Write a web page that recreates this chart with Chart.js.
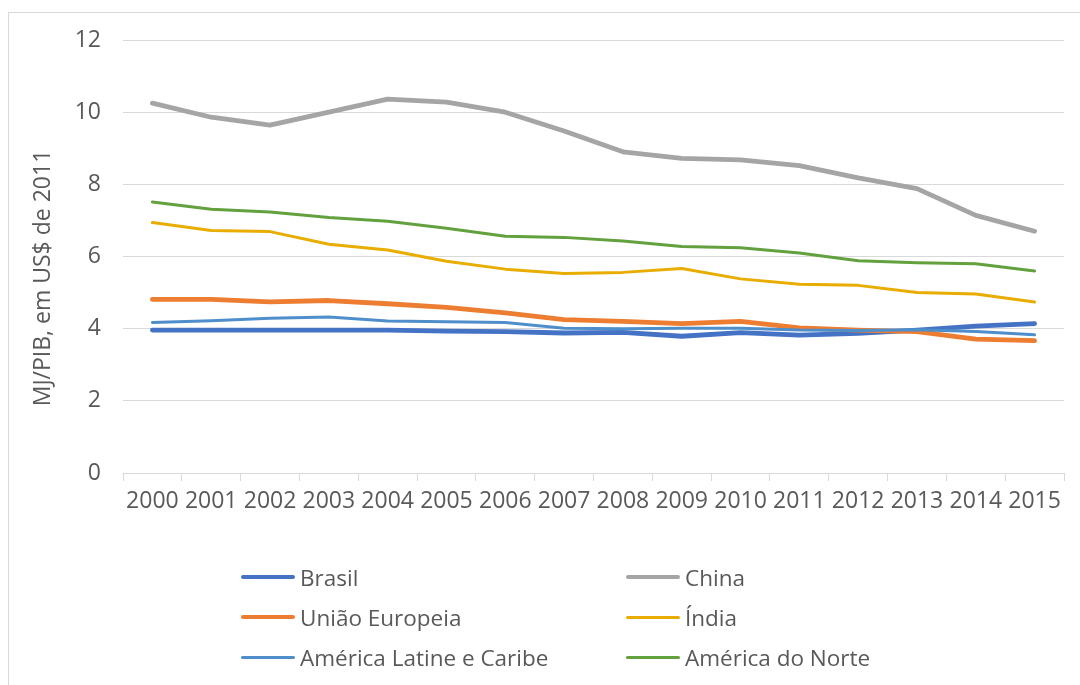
<!DOCTYPE html>
<html>
<head>
<meta charset="utf-8">
<script src="https://cdn.jsdelivr.net/npm/chart.js@4.4.0/dist/chart.umd.min.js"></script>
<style>
  html, body { margin: 0; padding: 0; background: #ffffff; }
  body { width: 1080px; height: 685px; position: relative; overflow: hidden; font-family: "Open Sans", sans-serif; }
  #frame { position: absolute; left: 8px; top: 12px; width: 1100px; height: 700px; border-left: 1px solid #D9D9D9; border-top: 1px solid #D9D9D9; }
  #wrap { position: absolute; left: 0; top: 0; width: 1080px; height: 540px; }
  #legend { position: absolute; left: 0; top: 0; width: 1080px; height: 685px; pointer-events: none; }
  .item { position: absolute; display: flex; align-items: center; color: #595959; font-size: 22.5px; white-space: nowrap; }
  .swatch { display: inline-block; border-radius: 4px; margin-right: 5px; }
</style>
</head>
<body>
<div id="frame"></div>
<div id="wrap"><canvas id="c" width="1080" height="540"></canvas></div>
<div id="legend"></div>
<script>
const years = ["2000","2001","2002","2003","2004","2005","2006","2007","2008","2009","2010","2011","2012","2013","2014","2015"];
const seriesNames = ["Brasil","China","União Europeia","Índia","América Latine e Caribe","América do Norte"];
const brasil   = [3.96,3.96,3.96,3.96,3.96,3.93,3.92,3.88,3.90,3.79,3.89,3.82,3.87,3.96,4.07,4.14];
const china    = [10.25,9.86,9.64,10.00,10.36,10.28,10.00,9.48,8.90,8.72,8.68,8.52,8.18,7.88,7.14,6.70];
const ue       = [4.81,4.81,4.74,4.78,4.69,4.59,4.44,4.25,4.20,4.14,4.20,4.02,3.96,3.92,3.71,3.67];
const india    = [6.94,6.72,6.69,6.34,6.18,5.87,5.65,5.53,5.56,5.67,5.38,5.23,5.20,5.00,4.96,4.74];
const latam    = [4.17,4.22,4.29,4.32,4.21,4.19,4.17,4.01,4.00,4.01,4.01,3.96,3.95,3.97,3.92,3.83];
const nortam   = [7.51,7.31,7.23,7.08,6.98,6.78,6.56,6.53,6.43,6.28,6.24,6.10,5.88,5.83,5.80,5.60];
const yTicks = [0,2,4,6,8,10,12];
const yTitle = "MJ/PIB, em US$ de 2011";

const colors = ["#4472C4","#A5A5A5","#ED7D31","#E8AD00","#4E8FCB","#62A13D"];
const widths = [4.8,4.8,4.8,3,3,3];
const values = [brasil, china, ue, india, latam, nortam];

const datasets = values.map((v, i) => ({
  label: seriesNames[i],
  data: v,
  borderColor: colors[i],
  backgroundColor: colors[i],
  borderWidth: widths[i],
  pointRadius: 0,
  pointHoverRadius: 0,
  tension: 0,
  borderJoinStyle: 'round',
  borderCapStyle: 'round',
  fill: false,
  order: values.length - i
}));

const textColor = '#595959';
const gridColor = '#D9D9D9';

// Axis title drawn slightly below the plot centre, as in the reference
const yTitlePlugin = {
  id: 'yTitlePlugin',
  afterDraw(chart) {
    const ctx = chart.ctx;
    ctx.save();
    ctx.translate(43, 278);
    ctx.rotate(-Math.PI / 2);
    ctx.font = '23px "Open Sans"';
    ctx.fillStyle = textColor;
    ctx.textAlign = 'center';
    ctx.textBaseline = 'middle';
    ctx.fillText(yTitle, 0, 0);
    ctx.restore();
  }
};

new Chart(document.getElementById('c'), {
  type: 'line',
  data: { labels: years, datasets },
  plugins: [yTitlePlugin],
  options: {
    responsive: false,
    animation: false,
    events: [],
    layout: { padding: { left: 0, right: 16, top: 40, bottom: 0 } },
    plugins: { legend: { display: false }, tooltip: { enabled: false } },
    scales: {
      x: {
        offset: true,
        grid: { display: true, drawOnChartArea: false, drawTicks: true, tickLength: 8, offset: true, color: gridColor, lineWidth: 1 },
        border: { display: true, color: gridColor, width: 1 },
        ticks: { color: textColor, font: { family: 'Open Sans', size: 23 }, padding: 7, maxRotation: 0, autoSkip: false },
        afterFit: s => { s.height = 67; }
      },
      y: {
        min: 0, max: 12,
        afterBuildTicks: s => { s.ticks = yTicks.map(v => ({ value: v })); },
        grid: { color: gridColor, lineWidth: 1, drawTicks: false },
        border: { display: false },
        ticks: { color: textColor, font: { family: 'Open Sans', size: 23 }, padding: 22 },
        title: { display: false, text: yTitle },
        afterFit: s => { s.width = 123; }
      }
    }
  }
});

// HTML legend built from series names and colors
const legend = document.getElementById('legend');
const colX = [241, 626];
const rowY = [577, 617, 657];
seriesNames.forEach((name, i) => {
  const col = i % 2, row = Math.floor(i / 2);
  const d = document.createElement('div');
  d.className = 'item';
  d.style.left = colX[col] + 'px';
  d.style.top = (rowY[row] - 16) + 'px';
  d.style.height = '32px';
  const sw = document.createElement('span');
  sw.className = 'swatch';
  sw.style.width = '54px';
  sw.style.height = widths[i] + 'px';
  sw.style.background = colors[i];
  const t = document.createElement('span');
  t.textContent = name;
  d.appendChild(sw); d.appendChild(t);
  legend.appendChild(d);
});
</script>
</body>
</html>
